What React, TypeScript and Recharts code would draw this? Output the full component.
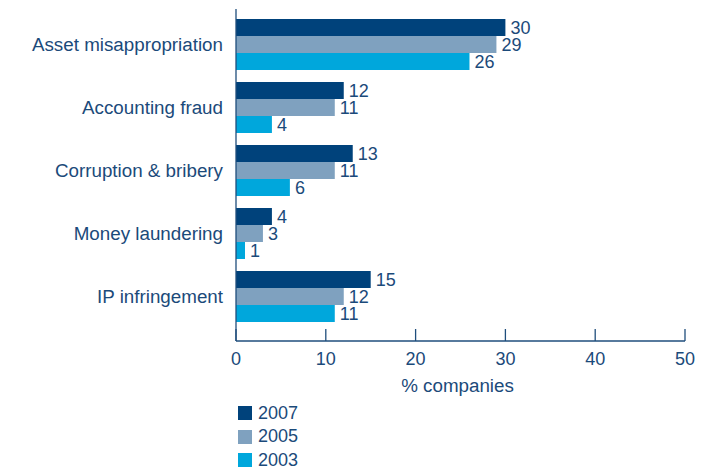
import React from 'react';
import { BarChart, Bar, XAxis, YAxis, LabelList, Legend, Label } from 'recharts';

const categories = ['Asset misappropriation', 'Accounting fraud', 'Corruption & bribery', 'Money laundering', 'IP infringement'];
const values2007 = [30, 12, 13, 4, 15];
const values2005 = [29, 11, 11, 3, 12];
const values2003 = [26, 4, 6, 1, 11];
const seriesNames = ['2007', '2005', '2003'];
const xTicks = [0, 10, 20, 30, 40, 50];

const data = categories.map((c, i) => ({
  name: c,
  y2007: values2007[i],
  y2005: values2005[i],
  y2003: values2003[i],
}));

const TEXT = '#1b4a7a';
const AXIS = '#1f4e7c';
const FONT = '"Liberation Sans", Arial, Helvetica, sans-serif';

const XTick = (props: any) => {
  const { x, y, payload } = props;
  return (
    <g>
      <line x1={x} x2={x} y1={y - 11 - 12} y2={y - 11} stroke={AXIS} strokeWidth={1.3} />
      <text x={x} y={y} dy="0.71em" textAnchor="middle" fill={TEXT} fontSize={18} fontFamily={FONT}>
        {payload.value}
      </text>
    </g>
  );
};

const LegendContent = (props: any) => {
  const { payload } = props;
  const items = seriesNames
    .map((n) => (payload || []).find((p: any) => p.value === n))
    .filter(Boolean);
  return (
    <div style={{ height: 68, fontFamily: FONT }}>
      {items.map((p: any) => (
        <div key={p.value} style={{ height: 23.5, display: 'flex', alignItems: 'center' }}>
          <span style={{ display: 'inline-block', width: 14, height: 14, background: p.color, marginRight: 6 }} />
          <span style={{ fontSize: 18, color: TEXT, lineHeight: '23.5px' }}>{p.value}</span>
        </div>
      ))}
    </div>
  );
};

export default function App() {
  return (
    <div style={{ position: 'absolute', left: 0, top: 0, width: 725, height: 469, overflow: 'hidden', background: '#fff' }}>
      <BarChart
        width={725}
        height={469}
        data={data}
        layout="vertical"
        margin={{ top: 9, right: 40, bottom: 0, left: 0 }}
        barCategoryGap={6.5}
        barGap={0}
      >
        <XAxis
          type="number"
          domain={[0, 50]}
          ticks={xTicks}
          height={60}
          axisLine={{ stroke: AXIS, strokeWidth: 1.3 }}
          tickLine={false}
          tickSize={0}
          tickMargin={11}
          tick={<XTick />}
          interval={0}
        >
          <Label value="% companies" position="insideBottom" offset={9} dx={-3} fill={TEXT} fontSize={18.8} fontFamily={FONT} />
        </XAxis>
        <YAxis
          type="category"
          dataKey="name"
          width={236}
          padding={{ top: 3.5, bottom: 13.5 }}
          axisLine={{ stroke: AXIS, strokeWidth: 1.3 }}
          tickLine={false}
          tickSize={6}
          tickMargin={7}
          tick={{ fill: TEXT, fontSize: 18.8, fontFamily: FONT }}
          interval={0}
        />
        <Legend
          content={<LegendContent />}
          verticalAlign="bottom"
          wrapperStyle={{ left: 238, top: 401.5, bottom: 'auto', width: 'auto' }}
        />
        <Bar dataKey="y2007" name="2007" fill="#00427b" isAnimationActive={false}>
          <LabelList dataKey="y2007" position="right" offset={5} fill={TEXT} fontSize={18} fontFamily={FONT} />
        </Bar>
        <Bar dataKey="y2005" name="2005" fill="#7fa1bf" isAnimationActive={false}>
          <LabelList dataKey="y2005" position="right" offset={5} fill={TEXT} fontSize={18} fontFamily={FONT} />
        </Bar>
        <Bar dataKey="y2003" name="2003" fill="#00a7dc" isAnimationActive={false}>
          <LabelList dataKey="y2003" position="right" offset={5} fill={TEXT} fontSize={18} fontFamily={FONT} />
        </Bar>
      </BarChart>
    </div>
  );
}
